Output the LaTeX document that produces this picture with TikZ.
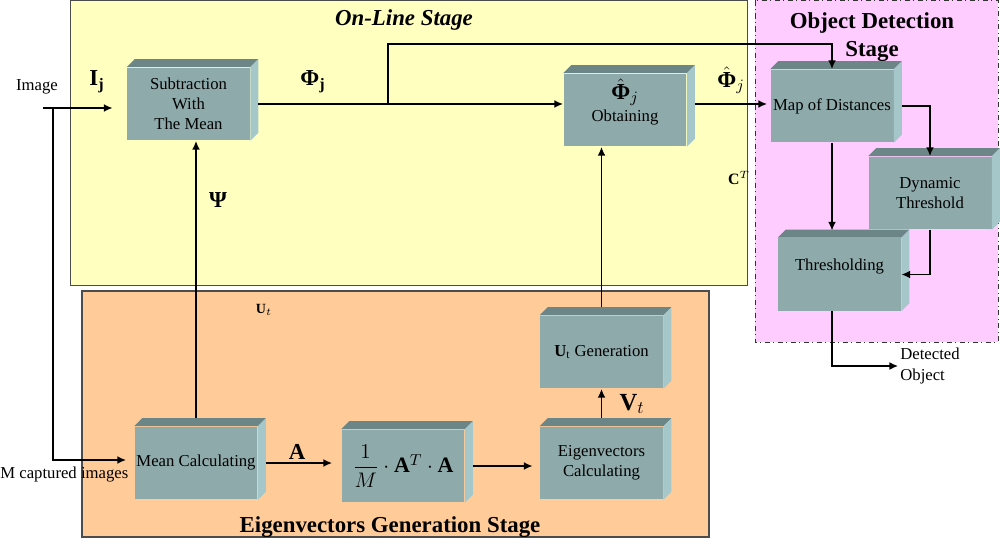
\documentclass[tikz,border=0pt]{standalone}
\usepackage{amsmath}
\usepackage{fontspec}
\setmainfont{Liberation Serif}
\usetikzlibrary{calc,arrows.meta}

\definecolor{onlinebg}{RGB}{255,255,192}
\definecolor{eigenbg}{RGB}{255,204,153}
\definecolor{detectbg}{RGB}{255,204,255}
\definecolor{boxfront}{RGB}{143,170,171}
\definecolor{boxtop}{RGB}{108,133,134}
\definecolor{boxside}{RGB}{165,199,202}

\tikzset{
  block/.style={fill=boxfront, minimum width=2.46cm, minimum height=1.46cm,
    inner sep=1pt, align=center, font=\fontsize{9.5}{11.5}\selectfont},
  flow/.style={line width=1.1pt, -{Latex[length=5pt,width=4.5pt]}},
  txt/.style={font=\fontsize{9.5}{11.5}\selectfont, inner sep=0pt, align=left},
  sym/.style={font=\fontsize{13}{15}\selectfont\bfseries, inner sep=0pt},
  stagetitle/.style={font=\fontsize{13}{16}\selectfont\bfseries, align=center, inner sep=0pt}
}

\begin{document}
\begin{tikzpicture}[x=0.02cm,y=-0.02cm]
  \def\dep{8}
  \useasboundingbox (0,0) rectangle (1000,540);

  % Stages
  \draw[fill=onlinebg, draw=black!70] (70,0.5) rectangle (747,285);
  \draw[fill=eigenbg, draw=black!70, line width=0.8pt] (82,291) rectangle (709,537);
  \draw[fill=detectbg, draw=black!80, dash dot] (755,0.5) rectangle (998,342);

  \node[stagetitle, font=\fontsize{13}{16}\selectfont\bfseries\itshape] (online) at (404,20) {On-Line Stage};
  \node[stagetitle] (detect) at (872,37) {Object Detection\\Stage};
  \node[stagetitle] (eigen) at (390,527) {Eigenvectors Generation Stage};

  % Blocks
  \node[block] (sub) at (188.5,104) {Subtraction\\With\\The Mean};
  \node[block] (obt) at (625,110) {{\fontsize{13}{15}\selectfont$\hat{\textbf{Φ}}_{j}$}\\[1pt]Obtaining\\\mbox{}};
  \node[block] (map) at (832,106) {Map of Distances};
  \node[block] (dyn) at (930,193) {Dynamic\\Threshold};
  \node[block] (thr) at (839.5,274.5) {Thresholding\\\mbox{}};
  \node[block] (utg) at (601.5,352) {$\mathbf{U}_{\mathrm{t}}$ Generation};
  \node[block] (eig) at (601.5,463) {Eigenvectors\\Calculating};
  \node[block] (mean) at (196,463) {Mean Calculating};
  \node[block, font=\fontsize{12.5}{14}\selectfont] (amat) at (403,466) {$\dfrac{1}{M}\cdot\mathbf{A}^{T}\cdot\mathbf{A}$};

  % 3D faces
  \foreach \n in {sub,obt,map,dyn,thr,utg,eig,mean,amat} {
    \fill[boxtop] (\n.north west) -- ++(\dep,-\dep) -- ($(\n.north east)+(\dep,-\dep)$) -- (\n.north east) -- cycle;
    \fill[boxside] (\n.north east) -- ++(\dep,-\dep) -- ($(\n.south east)+(\dep,-\dep)$) -- (\n.south east) -- cycle;
  }

  % Labels
  \node[txt] (image) at (37,87) {Image};
  \node[txt, anchor=west] (mcap) at (0,475) {M captured images};
  \node[txt, anchor=west] (det) at (900,366) {Detected\\Object};
  \node[sym] (ij) at (97,82) {I\textsubscript{j}};
  \node[sym] (phij) at (313,82) {Φ\textsubscript{j}};
  \node[sym] (psi) at (218,200) {Ψ};
  \node[sym] (phihat) at (731,80) {$\hat{\textbf{Φ}}_{j}$};
  \node[sym] (alab) at (297,452) {A};
  \node[sym, font=\fontsize{14}{16}\selectfont] (vt) at (632,404) {$\mathbf{V}_{t}$};
  \node[font=\fontsize{9}{11}\selectfont, inner sep=0pt] (ct) at (739,178) {$\mathbf{C}^{T}$};
  \node[font=\fontsize{8}{10}\selectfont, inner sep=0pt] (ut) at (264,310) {$\mathbf{U}_{t}$};

  % Connectors
  \coordinate (in) at (43,108);
  \coordinate (split) at (53,108);
  \coordinate (br) at (388,104);
  \coordinate (loop) at (388,44);
  \coordinate (meantop) at ($(mean.north)+(0,-\dep)$);
  \coordinate (meanin) at ($(mean.west)+(0,-3)$);
  \coordinate (obtout) at ($(obt.east |- sub.east)+(\dep,0)$);
  \coordinate (thrtop) at ($(map.south |- thr.north)+(0,-7)$);
  \coordinate (utgtop) at ($(utg.north)+(0,-\dep)$);

  \draw[flow, shorten >=2.8mm] (in) -- (in -| sub.west);
  \draw[flow, shorten >=1.6mm] (split) |- (meanin);
  \draw[flow] (meantop) -- (meantop |- sub.south);
  \draw[flow] ($(sub.east)+(\dep,0)$) -- (sub.east -| obt.west);
  \draw[flow] (br) -- (loop) -| (map.north);
  \draw[flow, shorten >=0.6mm] (obtout) -- (obtout -| map.west);
  \draw[flow] ($(map.east)+(\dep,0)$) -| (dyn.north);
  \draw[flow] (map.south) -- (thrtop);
  \draw[flow] (dyn.south) |- (thr.east);
  \draw[flow, shorten >=1pt] (map.south |- thr.south) |- (det.west);
  \draw[flow] (utgtop) -- (utgtop |- obt.south);
  \draw[flow] ($(eig.north)+(0,-\dep)$) -- (utg.south);
  \draw[flow, shorten >=1.8mm] ($(mean.east)+(\dep,0)$) -- (mean.east -| amat.west);
  \draw[flow, shorten >=1.4mm] ($(amat.east)+(\dep,0)$) -- (amat.east -| eig.west);
\end{tikzpicture}
\end{document}
